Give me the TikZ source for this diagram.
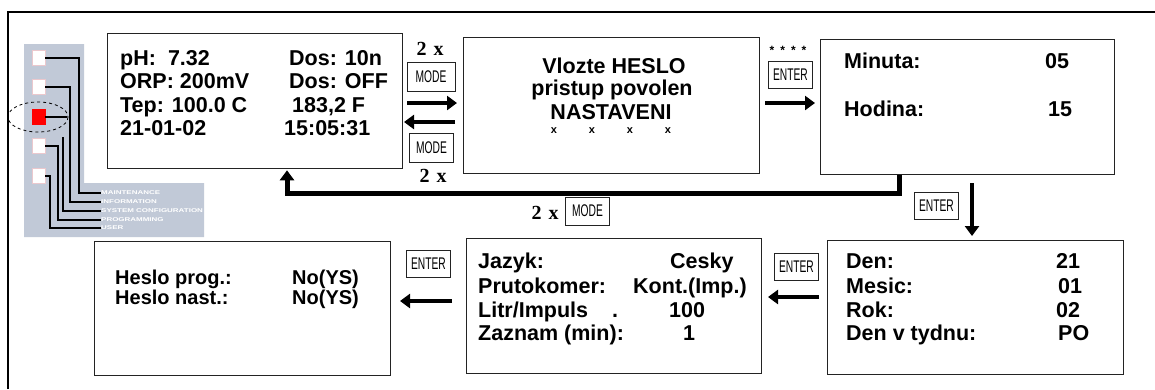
\documentclass[tikz,border=0pt]{standalone}
\usepackage{fontspec}
\setmainfont{Liberation Sans}
\newfontfamily\serifx{Liberation Serif}
\usetikzlibrary{arrows.meta}
\definecolor{panelgray}{RGB}{193,201,215}
\definecolor{boxline}{RGB}{35,35,35}
\definecolor{sqedge}{RGB}{235,200,205}
\newcommand{\keylabel}[1]{\scalebox{0.82}[1.35]{#1}}
\begin{document}
\begin{tikzpicture}[x=1pt,y=-1pt,
  scr/.style={draw=boxline,line width=1.3pt,inner sep=0pt,anchor=north west},
  txt/.style={font=\fontsize{21.5}{21.5}\selectfont\bfseries,anchor=base west,inner sep=0pt},
  ctxt/.style={font=\fontsize{21.5}{21.5}\selectfont\bfseries,anchor=base,inner sep=0pt},
  keybox/.style={draw=boxline,line width=1pt,font=\fontsize{12.5}{12.5}\selectfont,inner sep=0pt,minimum width=44pt,minimum height=27pt},
  twox/.style={font=\fontsize{20}{20}\selectfont\serifx\bfseries,inner sep=0pt,anchor=base},
  arr/.style={line width=4.5pt,-{Triangle[length=10pt,width=14pt]}},
  menu/.style={font=\fontsize{5.5}{5.5}\selectfont\bfseries,text=white,anchor=west,inner sep=0pt},
  wire/.style={line width=1.1pt,black},
  sq/.style={fill=white,draw=sqedge,line width=0.4pt,minimum width=13pt,minimum height=15pt,inner sep=0pt}
  ]
\useasboundingbox (0,0) rectangle (1155,389);
\fill[white] (0,0) rectangle (1155,389);
% outer frame (cut at right and bottom)
\draw[line width=2pt] (8,389) -- (8,12) -- (1155,12);

% ---- panel ----
\fill[panelgray] (24,44) -- (84,44) -- (84,183) -- (204,183) -- (204,237) -- (24,237) -- cycle;
\node[sq] (s1) at (38.5,58) {};
\node[sq] (s2) at (38.5,87) {};
\node[sq,fill=red,draw=red] (s3) at (38.5,117) {};
\node[sq] (s4) at (38.5,146) {};
\node[sq] (s5) at (38.5,176) {};
\draw[dashed,line width=0.8pt] (38,117) ellipse [x radius=30, y radius=15];
\node[menu] (l1) at (101,193) {\scalebox{1.45}[1]{MAINTENANCE}};
\node[menu] (l2) at (101,202) {\scalebox{1.45}[1]{INFORMATION}};
\node[menu] (l3) at (101,211) {\scalebox{1.45}[1]{SYSTEM CONFIGURATION}};
\node[menu] (l4) at (101,220) {\scalebox{1.45}[1]{PROGRAMMING}};
\node[menu] (l5) at (101,228) {\scalebox{1.45}[1]{USER}};
\draw[wire] (s1.east) -- (79,58) |- (l1.west);
\draw[wire] (s2.east) -- (70,87) |- (l2.west);
\draw[wire] (s3.east) -- (67,117);
\draw[wire] (63,137) |- (l3.west);
\draw[wire] (s4.east) -- (58,146) |- (l4.west);
\draw[wire] (s5.east) -- (50,176) |- (l5.west);

% ---- screens ----
\node[scr,minimum width=295pt,minimum height=135pt] (b1) at (107,33) {};
\node[scr,minimum width=296pt,minimum height=136pt] (b2) at (463,37) {};
\node[scr,minimum width=294pt,minimum height=135pt] (b3) at (820,39) {};
\node[scr,minimum width=296pt,minimum height=134pt] (b4) at (827,240) {};
\node[scr,minimum width=295pt,minimum height=135pt] (b5) at (466,238) {};
\node[scr,minimum width=296pt,minimum height=134pt] (b6) at (94,241) {};

% screen 1
\node[txt] (t11) at (120,65) {pH:\hspace{12pt}7.32};
\node[txt] (t12) at (120,88) {ORP: 200mV};
\node[txt] (t13) at (120,112) {Tep: 100.0 C};
\node[txt] (t14) at (120,135) {21-01-02};
\node[txt] (t15) at (289,65) {Dos: 10n};
\node[txt] (t16) at (289,88) {Dos: OFF};
\node[txt] (t17) at (292,112) {183,2 F};
\node[txt] (t18) at (284,135) {15:05:31};
% screen 2
\node[ctxt] (t21) at (614,73) {Vlozte HESLO};
\node[ctxt] (t22) at (612,95) {pristup povolen};
\node[ctxt] (t23) at (611,119) {NASTAVENI};
\foreach \xx [count=\i] in {554,592,630,668}
  \node[font=\fontsize{11}{11}\selectfont\bfseries,inner sep=0pt] (xs\i) at (\xx,131) {x};
% screen 3
\node[txt] (t31) at (844,68) {Minuta:};
\node[txt] (t32) at (1045,68) {05};
\node[txt] (t33) at (844,116) {Hodina:};
\node[txt] (t34) at (1048,116) {15};
% screen 4
\node[txt] (t41) at (846,268) {Den:};
\node[txt] (t42) at (846,293) {Mesic:};
\node[txt] (t43) at (846,317) {Rok:};
\node[txt] (t44) at (846,340) {Den v tydnu:};
\node[txt] (t45) at (1056,268) {21};
\node[txt] (t46) at (1058,293) {01};
\node[txt] (t47) at (1056,317) {02};
\node[txt] (t48) at (1058,340) {PO};
% screen 5
\node[txt] (t51) at (478,268) {Jazyk:};
\node[txt] (t52) at (478,293) {Prutokomer:};
\node[txt] (t53) at (478,317) {Litr/Impuls\hspace{24pt}.};
\node[txt] (t54) at (478,340) {Zaznam (min):};
\node[txt] (t55) at (670,268) {Cesky};
\node[txt] (t56) at (633,293) {Kont.(Imp.)};
\node[txt] (t57) at (669,317) {100};
\node[txt] (t58) at (683,340) {1};
% screen 6
\node[txt,font=\fontsize{20}{20}\selectfont\bfseries] (t61) at (115,284) {Heslo prog.:};
\node[txt,font=\fontsize{20}{20}\selectfont\bfseries] (t62) at (115,304) {Heslo nast.:};
\node[txt,font=\fontsize{20}{20}\selectfont\bfseries] (t63) at (292,284) {No(YS)};
\node[txt,font=\fontsize{20}{20}\selectfont\bfseries] (t64) at (292,304) {No(YS)};

% ---- keys and labels ----
\node[twox] (x1) at (430,55) {2\hspace{7pt}x};
\node[keybox,minimum width=48pt,minimum height=29pt] (k1) at (431,76.5) {\keylabel{MODE}};
\node[keybox,minimum height=29pt] (k2) at (431.5,147.5) {\keylabel{MODE}};
\node[twox] (x2) at (433,182) {2\hspace{7pt}x};
\node[twox] (x3) at (545,219) {2\hspace{7pt}x};
\node[keybox,minimum height=28pt] (k3) at (587.5,211) {\keylabel{MODE}};
\node[font=\fontsize{12}{12}\selectfont\bfseries,inner sep=0pt] (st) at (788,50) {*\hspace{6pt}*\hspace{6pt}*\hspace{6pt}*};
\node[keybox] (k4) at (790.5,75) {\keylabel{ENTER}};
\node[keybox] (k5) at (936.5,205.5) {\keylabel{ENTER}};
\node[keybox] (k6) at (796.5,266.5) {\keylabel{ENTER}};
\node[keybox] (k7) at (428.5,264) {\keylabel{ENTER}};

% ---- arrows ----
\coordinate (a1s) at (407,103); \coordinate (a1e) at (457,103);
\coordinate (a2s) at (455,122); \coordinate (a2e) at (404,122);
\coordinate (a3s) at (765,103); \coordinate (a3e) at (815,103);
\coordinate (a4s) at (972,183); \coordinate (a4e) at (972,236);
\coordinate (a5s) at (819,297); \coordinate (a5e) at (768,297);
\coordinate (a6s) at (452,301); \coordinate (a6e) at (400,301);
\draw[arr] (a1s) -- (a1e);
\draw[arr] (a2s) -- (a2e);
\draw[arr] (a3s) -- (a3e);
\draw[arr] (a4s) -- (a4e);
\draw[arr] (a5s) -- (a5e);
\draw[arr] (a6s) -- (a6e);
\draw[arr,line width=5pt] ([xshift=79pt]b3.south west) -- ++(0,18) -| ([xshift=180pt,yshift=-1pt]b1.south west);
\end{tikzpicture}
\end{document}
